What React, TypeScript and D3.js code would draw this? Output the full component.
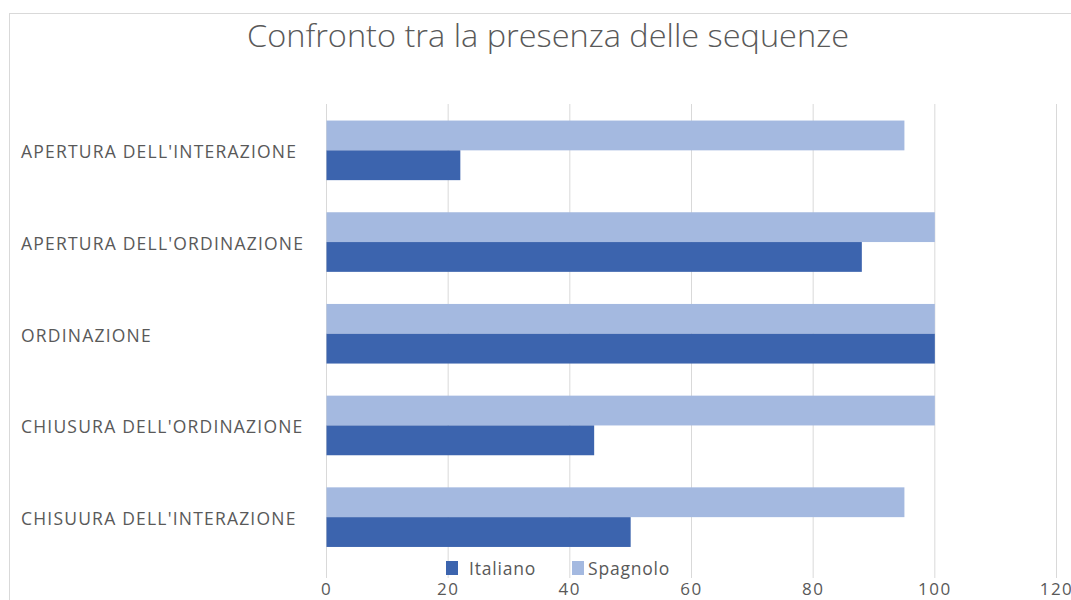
import React from "react";
import * as d3 from "d3";

const categories = [
  "APERTURA DELL'INTERAZIONE",
  "APERTURA DELL'ORDINAZIONE",
  "ORDINAZIONE",
  "CHIUSURA DELL'ORDINAZIONE",
  "CHISUURA DELL'INTERAZIONE",
];
const seriesNames = ["Spagnolo", "Italiano"];
const spagnolo = [95, 100, 100, 100, 95];
const italiano = [22, 88, 100, 44, 50];
const xTicks = [0, 20, 40, 60, 80, 100, 120];
const title = "Confronto tra la presenza delle sequenze";

const colors: Record<string, string> = { Italiano: "#3C64AE", Spagnolo: "#A4B9E0" };
const FONT = "'Open Sans', 'Noto Sans', sans-serif";

export default function App() {
  const W = 1071, H = 600;
  const x = d3.scaleLinear().domain([0, 120]).range([326.5, 1056.5]);
  const y = d3.scaleBand<string>().domain(categories).range([104.5, 563]).paddingInner(0.35).paddingOuter(0.175);
  const inner = d3.scaleBand<string>().domain(seriesNames).range([0, y.bandwidth()]);
  const values: Record<string, number[]> = { Spagnolo: spagnolo, Italiano: italiano };

  return (
    <svg width={W} height={H} style={{ position: "absolute", left: 0, top: 0, background: "#fff" }}>
      <rect x={9.5} y={13.5} width={1100} height={700} fill="#fff" stroke="#d9d9d9" />
      <text x={548} y={47} textAnchor="middle" fontFamily={FONT} fontSize={31} fill="#595959" fontWeight={300}
        textLength={602} lengthAdjust="spacingAndGlyphs">{title}</text>
      {xTicks.map((t) => (
        <line key={t} x1={x(t)} x2={x(t)} y1={104} y2={578} stroke="#d9d9d9" strokeWidth={1} />
      ))}
      {categories.map((c, i) => (
        <g key={c} transform={`translate(0,${y(c)})`}>
          {seriesNames.map((s) => (
            <rect key={s} x={x(0)} y={inner(s)} width={x(values[s][i]) - x(0)} height={inner.bandwidth()} fill={colors[s]} />
          ))}
          <text x={21} y={y.bandwidth() / 2 + 8} fontFamily={FONT} fontSize={17.5} letterSpacing={1.2} fill="#595959">{c}</text>
        </g>
      ))}
      {xTicks.map((t) => (
        <text key={t} x={x(t)} y={595} textAnchor="middle" fontFamily={FONT} fontSize={17} letterSpacing={1.5} fill="#595959">{t}</text>
      ))}
      <g>
        <rect x={446} y={561} width={12} height={14} fill={colors.Italiano} />
        <text x={469} y={575} fontFamily={FONT} fontSize={17.5} letterSpacing={0.8} fill="#595959">Italiano</text>
        <rect x={572} y={561} width={12} height={14} fill={colors.Spagnolo} />
        <text x={588} y={575} fontFamily={FONT} fontSize={17.5} letterSpacing={0.8} fill="#595959">Spagnolo</text>
      </g>
    </svg>
  );
}
